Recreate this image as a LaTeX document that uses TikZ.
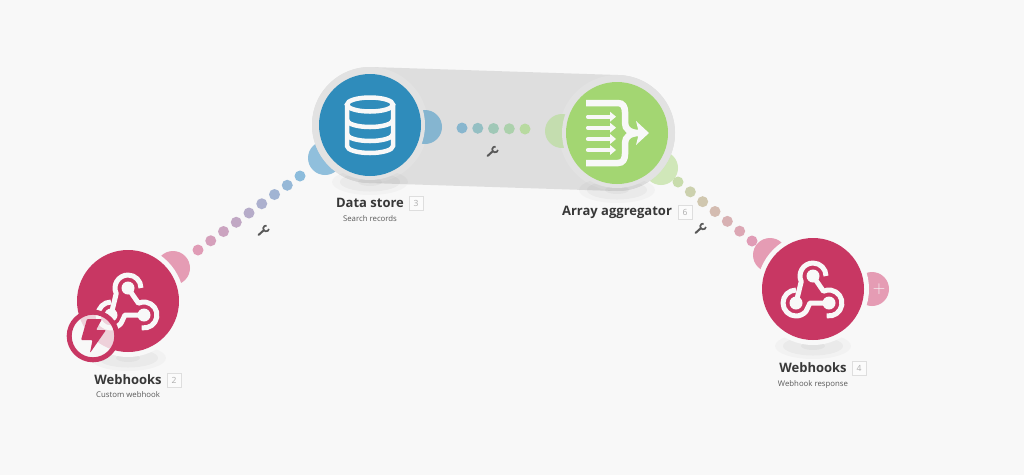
\documentclass[tikz,border=0pt]{standalone}
\usepackage{fontspec}
\setmainfont{Open Sans}
\usetikzlibrary{calc}
\definecolor{pagebg}{HTML}{F8F8F8}
\definecolor{bandgray}{HTML}{DEDEDE}
\definecolor{ringgray}{HTML}{E2E2E2}
\definecolor{crimson}{HTML}{C83763}
\definecolor{storeblue}{HTML}{2F8CBB}
\definecolor{aggrgreen}{HTML}{A3D672}
\definecolor{hookpink}{HTML}{E59CB4}
\definecolor{storeout}{HTML}{85B5D0}
\definecolor{storein}{HTML}{90BFDC}
\definecolor{aggrin}{HTML}{C4DDAF}
\definecolor{aggrout}{HTML}{D0E7B9}
\definecolor{dotpink}{HTML}{E09CB6}
\definecolor{dotblue}{HTML}{8CBCDC}
\definecolor{dotteal}{HTML}{88B6CE}
\definecolor{dotgreen}{HTML}{B8DAA0}
\definecolor{dotolive}{HTML}{C8DCAC}
\tikzset{
	module/.style={circle,minimum size=102pt,inner sep=0pt,outer sep=0pt},
	title/.style={font=\fontsize{13}{15}\selectfont\bfseries,text=black!78,inner sep=0pt},
	subtitle/.style={font=\fontsize{7.8}{10}\selectfont,text=black!65,inner sep=0pt},
	badge/.style={draw=black!13,fill=white!50!pagebg,line width=1pt,minimum size=14pt,inner sep=0pt,font=\fontsize{8.5}{10}\selectfont,text=black!32},
	pics/webhookicon/.style={code={
		\begin{scope}[y=1pt]
		\fill[pagebg] (0,13) circle (6.5pt) (-17,-14) circle (6.5pt) (16,-14) circle (6.5pt);
		\draw[pagebg,line width=5pt,line join=round] (13,13) arc[start angle=0,end angle=205,radius=13] -- (-17,-14);
		\draw[pagebg,line width=5pt,line join=round] (-17,-1) arc[start angle=90,end angle=320,radius=13] -- (-3,-14) -- (16,-14);
		\draw[pagebg,line width=5pt,line join=round] (13.7,-26.8) arc[start angle=-100,end angle=115,radius=13] -- (0,13);
		\end{scope}
	}},
	pics/boltbadge/.style={code={
		\begin{scope}[y=1pt]
		\fill[pagebg,opacity=.8] (0,0) circle (23.8pt);
		\draw[crimson,line width=5pt] (0,0) circle (23.8pt);
		\fill[crimson,rounded corners=1pt] (-6,17) -- (9,17) -- (3,6) -- (13,6) -- (-3,-17) -- (-.5,-4) -- (-12,-4) -- cycle;
		\end{scope}
	}},
	pics/storeicon/.style={code={
		\begin{scope}[y=1pt,pagebg,line width=4.5pt]
		\draw (0,20.5) ellipse (23pt and 7pt);
		\draw (-23,20.5) -- (-23,-21) arc[start angle=180,end angle=360,x radius=23,y radius=7] -- (23,20.5);
		\foreach \y in {5,-9}
			\draw (-23,\y) arc[start angle=180,end angle=360,x radius=23,y radius=7];
		\end{scope}
	}},
	pics/aggricon/.style={code={
		\begin{scope}[y=1pt,pagebg]
		\draw[line width=6.5pt] (-31,30) -- (1,30) .. controls (6,30) and (8,26) .. (8,21) -- (8,10) .. controls (8,4) and (13,0) .. (22,0) .. controls (13,0) and (8,-4) .. (8,-10) -- (8,-21) .. controls (8,-26) and (6,-30) .. (1,-30) -- (-31,-30);
		\fill (19,12) -- (32,0) -- (19,-12) -- (22,0) -- cycle;
		\foreach \y in {16.3,5.3,-6,-17}{
			\draw[line width=4.2pt,line cap=round] (-29,\y) -- (-6,\y);
			\fill (-7,\y+5) -- (-1,\y) -- (-7,\y-5) -- cycle;
		}
		\end{scope}
	}},
	pics/wrench/.style={code={
		\begin{scope}[y=1pt,black!65]
		\draw[line width=2pt,line cap=round] (-4.5,-4) -- (1,1);
		\draw[line width=1.7pt] (3.6,5.4) arc[start angle=80,end angle=350,radius=2.9];
		\end{scope}
	}},
}
\begin{document}
\begin{tikzpicture}[x=1pt,y=-1pt]
		\useasboundingbox (0,0) rectangle (1024,475);
		\fill[pagebg] (0,0) rectangle (1024,475);
		
		\node(webhookin) [module] at (128,301) {};
		\node(datastore) [module] at (370,125) {};
		\node(aggregator) [module] at (617,133) {};
		\node(webhookout) [module] at (813,289) {};
		
		% bubbles under the gray band
		\fill[storein] (325,158) circle (17pt);
		\fill[aggrout] (661,168) circle (17pt);
		\draw[bandgray,line width=116pt,line cap=round] (datastore.center) -- (aggregator.center);
		\fill[ringgray] (datastore) circle (58pt);
		\fill[ringgray] (aggregator) circle (58pt);
		
		% shadows
		\foreach \n in {webhookin,datastore,aggregator,webhookout}{
			\fill[black,opacity=.025] ($(\n)+(0,57)$) ellipse (38pt and 13pt);
			\fill[black,opacity=.03] ($(\n)+(0,57)$) ellipse (30pt and 9.5pt);
			\fill[black,opacity=.03] ($(\n)+(0,57)$) ellipse (12pt and 4pt);
		}
		
		% bubbles
		\fill[hookpink] (173,268) circle (17pt);
		\fill[storeout] (425,127) circle (17pt);
		\fill[aggrin] (562,131) circle (17pt);
		\fill[hookpink] (770,255) circle (17pt);
		\fill[hookpink] (872,289) circle (17pt);
		\node(addmodule) [text=pagebg,font=\fontsize{17}{17}\selectfont,inner sep=0pt] at (879,289) {$+$};
		
		\fill[pagebg] (webhookin) circle (56pt);
		\fill[ringgray] (datastore) circle (55pt);
		\fill[ringgray] (aggregator) circle (55pt);
		\fill[pagebg] (webhookout) circle (56pt);
		
		\node[module,fill=crimson] at (webhookin) {};
		\node[module,fill=storeblue] at (datastore) {};
		\node[module,fill=aggrgreen] at (aggregator) {};
		\node[module,fill=crimson] at (webhookout) {};
		
		\pic at (webhookin) {webhookicon};
		\pic at (webhookout) {webhookicon};
		\pic at (datastore) {storeicon};
		\pic at (aggregator) {aggricon};
		\pic at (93,336) {boltbadge};
		
		% dotted links
		\coordinate (linkAa) at (198,250);
		\coordinate (linkAb) at (300,176);
		\coordinate (linkBa) at (462,128);
		\coordinate (linkBb) at (525,129);
		\coordinate (linkCa) at (678,182);
		\coordinate (linkCb) at (752,241);
		\foreach \i [evaluate=\i as \t using \i/8, evaluate=\i as \m using 100*\i/8] in {0,...,8}
			\fill[dotblue!\m!dotpink] ($(linkAa)!\t!(linkAb)$) circle (5.5pt);
		\foreach \i [evaluate=\i as \t using \i/4, evaluate=\i as \m using 100*\i/4] in {0,...,4}
			\fill[dotgreen!\m!dotteal] ($(linkBa)!\t!(linkBb)$) circle (5.5pt);
		\foreach \i [evaluate=\i as \t using \i/6, evaluate=\i as \m using 100*\i/6] in {0,...,6}
			\fill[dotpink!\m!dotolive] ($(linkCa)!\t!(linkCb)$) circle (5.5pt);
		
		\pic at (263,231) {wrench};
		\pic at (492,152) {wrench};
		\pic at (700,229) {wrench};
		
		% labels
		\node(titleA) [title,below of=webhookin,node distance=79pt] {Webhooks};
		\node(subA) [subtitle,below of=titleA,node distance=15pt] {Custom webhook};
		\node(badgeA) [badge,right of=titleA,node distance=46pt] {2};
		
		\node(titleB) [title,below of=datastore,node distance=78pt] {Data store};
		\node(subB) [subtitle,below of=titleB,node distance=16pt] {Search records};
		\node(badgeB) [badge,right of=titleB,node distance=46pt] {3};
		
		\node(titleC) [title,below of=aggregator,node distance=79pt] {Array aggregator};
		\node(badgeC) [badge,right of=titleC,node distance=68pt] {6};
		
		\node(titleD) [title,below of=webhookout,node distance=79pt] {Webhooks};
		\node(subD) [subtitle,below of=titleD,node distance=16pt] {Webhook response};
		\node(badgeD) [badge,right of=titleD,node distance=46pt] {4};
\end{tikzpicture}
\end{document}
